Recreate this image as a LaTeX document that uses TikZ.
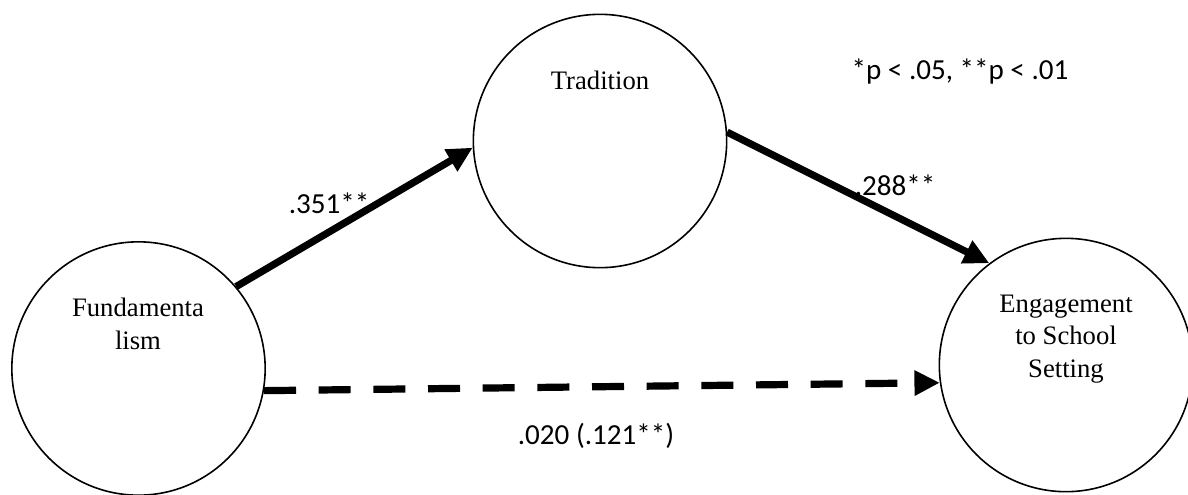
\documentclass[tikz,border=0pt]{standalone}
\usepackage{fontspec}
\setmainfont{Liberation Serif}
\newfontfamily\lblfont{Carlito}
\usetikzlibrary{arrows.meta}
\tikzset{
  var/.style={circle, draw, line width=1.2pt, minimum size=190pt, inner sep=0pt},
  vartext/.style={font=\fontsize{20}{24.5}\selectfont, align=center, inner sep=0pt},
  coef/.style={font=\lblfont\fontsize{21.8}{26}\selectfont, inner sep=0pt},
  path/.style={line width=5.4pt, -{Triangle[length=19pt,width=18pt]}},
  dpath/.style={path, dash pattern=on 24pt off 17pt}
}
\begin{document}
\begin{tikzpicture}[x=0.75pt, y=-0.75pt]
\useasboundingbox (0,0) rectangle (1188,494);
\clip (0,0) rectangle (1188,494);
\node[var] (F) at (138.5,368.5) {};
\node[var] (T) at (600,141) {};
\node[var] (E) at (1066,365) {};
\node[vartext] (Ft) at (138,324) {Fundamenta\\lism};
\node[vartext] (Tt) at (600,80) {Tradition};
\node[vartext] (Et) at (1066,339) {Engagement\\to School\\Setting};
\draw[path] (F.40) -- (T.183);
\draw[path] (T.4) -- (E.127);
\draw[dpath] (F.-10) -- (E.188);
\node[coef] (a) at (329,203) {.351**};
\node[coef] (b) at (895,185) {.288**};
\node[coef] (c) at (596,436) {.020 (.121**)};
\node[coef] (n) at (960,72) {*p < .05, **p < .01};
\end{tikzpicture}
\end{document}
